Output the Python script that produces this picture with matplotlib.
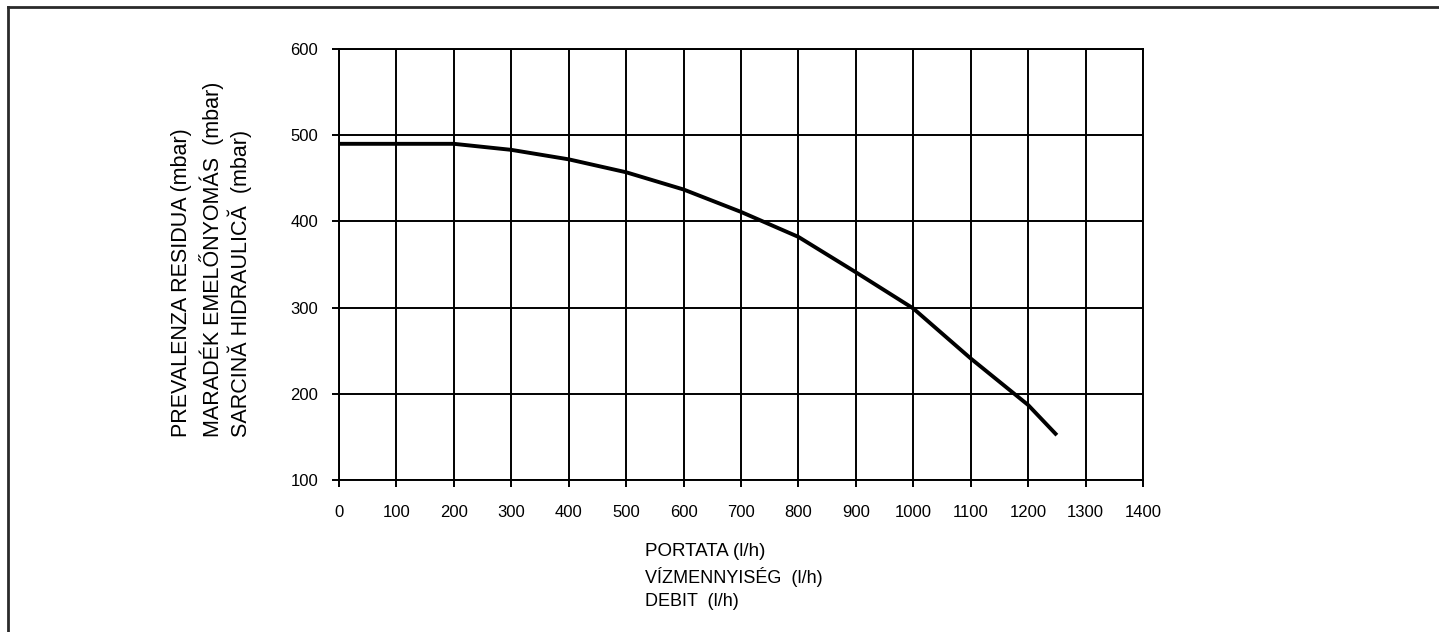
import matplotlib
matplotlib.use("Agg")
import matplotlib.pyplot as plt
from matplotlib.lines import Line2D

plt.rcParams['font.family'] = ['Liberation Sans', 'DejaVu Sans']

# pump curve read from the sheet
flow = [0, 200, 300, 400, 500, 600, 700, 800, 900, 1000, 1100, 1200, 1250]
head = [490, 490, 483, 472, 457, 437, 411, 382, 341, 299, 241, 187, 152]

x_ticks = list(range(0, 1401, 100))
y_ticks = [100, 200, 300, 400, 500, 600]

y_label_lines = ["PREVALENZA RESIDUA (mbar)",
                 "MARADÉK EMELŐNYOMÁS  (mbar)",
                 "SARCINĂ HIDRAULICĂ  (mbar)"]
x_label_lines = ["PORTATA (l/h)", "VÍZMENNYISÉG  (l/h)", "DEBIT  (l/h)"]

W, H = 1439, 632
fig = plt.figure(figsize=(W / 100, H / 100), dpi=100)
ax = fig.add_axes([339 / W, 1 - 480 / H, (1143 - 339) / W, (480 - 49) / H])

ax.plot(flow, head, color='black', linewidth=2.8, solid_capstyle='butt')

ax.set_xlim(0, 1400)
ax.set_ylim(100, 600)
ax.set_xticks(x_ticks)
ax.set_yticks(y_ticks)
ax.grid(True, color='black', linewidth=1.4)
ax.set_axisbelow(True)
for s in ax.spines.values():
    s.set_linewidth(1.4)
ax.tick_params(axis='both', direction='out', length=5, width=1.4,
               labelsize=12, colors='black')
ax.tick_params(axis='x', pad=13)
ax.tick_params(axis='y', pad=10)

# multi-line axis captions
ys = [552, 577, 601]
sizes = [13.5, 13, 13]
for txt, y, fs in zip(x_label_lines, ys, sizes):
    fig.text(645 / W, 1 - y / H, txt, fontsize=fs, ha='left', va='center')

xs = [182, 212, 240]
for txt, x in zip(y_label_lines, xs):
    fig.text(x / W, 1 - 437 / H, txt, fontsize=15.5, rotation=90,
             ha='center', va='bottom')

# page frame (left and top edges)
fig.add_artist(Line2D([8 / W, 8 / W], [0, 1 - 7 / H], transform=fig.transFigure,
                      color='#2a2a2a', linewidth=2))
fig.add_artist(Line2D([8 / W, 1], [1 - 7 / H, 1 - 7 / H], transform=fig.transFigure,
                      color='#2a2a2a', linewidth=2))

fig.savefig("out.png", dpi=100)
